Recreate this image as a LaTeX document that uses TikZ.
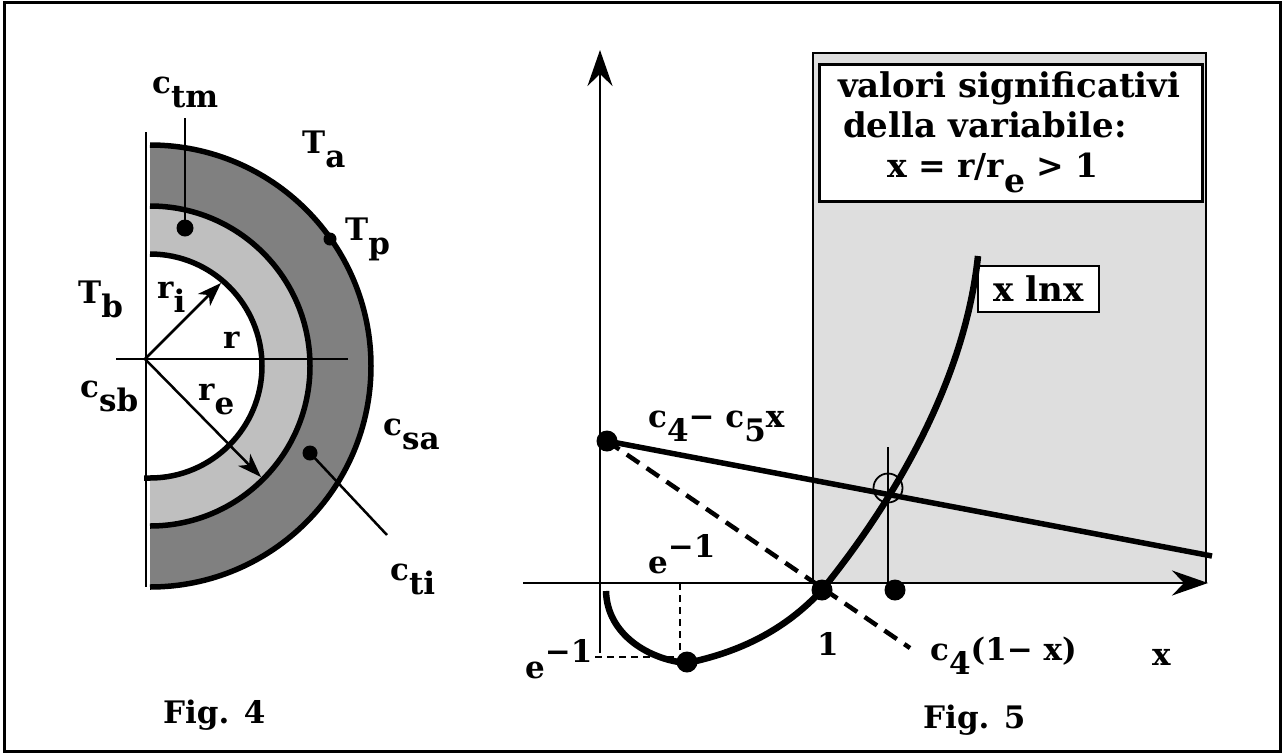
\documentclass[tikz,border=0pt]{standalone}
\usepackage{fontspec}
\setmainfont{DejaVu Serif}
\usetikzlibrary{arrows.meta}
\newcommand{\dn}[1]{\raisebox{-0.48em}{#1}}
\newcommand{\upr}[1]{\raisebox{0.5em}{#1}}
\begin{document}
\begin{tikzpicture}[x=1pt,y=-1pt,
  font=\fontsize{31}{33}\selectfont\bfseries,
  lbl/.style={anchor=base west,inner sep=0pt},
  boxtxt/.style={anchor=base west,inner sep=0pt,font=\fontsize{34}{36}\selectfont\bfseries},
  dotm/.style={circle,fill=black,inner sep=0pt,minimum size=#1},
  thin2/.style={line width=2.5pt},
  arcline/.style={line width=5.5pt},
  thickc/.style={line width=6.5pt},
  smallarrow/.style={-{Stealth[length=24pt,width=17pt,inset=7pt]}},
  axisarrow/.style={-{Stealth[length=36pt,width=25pt,inset=12pt]}},
  fine/.style={line width=1.8pt,dash pattern=on 7pt off 5pt}]
\useasboundingbox (0,0) rectangle (1282,753);
\fill[white] (0,0) rectangle (1282,753);
\draw[line width=3pt] (4,2) rectangle (1280,751);

% ---------- Fig. 4 ----------
\fill[black!50] (150,145) arc[start angle=90,end angle=-90,radius=221pt] -- cycle;
\fill[black!25] (150,206) arc[start angle=90,end angle=-90,radius=160pt] -- cycle;
\fill[white] (150,254) arc[start angle=90,end angle=-90,radius=112pt] -- cycle;
\draw[thin2] (146,132) -- (146,587);
\draw[thin2] (116,359) -- (348,359);
\draw[arcline] (150,254) arc[start angle=90,end angle=-90,radius=112pt] -- (144,478);
\draw[arcline] (150,206) arc[start angle=90,end angle=-90,radius=160pt];
\draw[arcline] (150,145) arc[start angle=90,end angle=-90,radius=221pt];
\coordinate (O) at (145,359);
\coordinate (Ri) at (221,283);
\coordinate (Re) at (261,477);
\draw[thin2,smallarrow] (O) -- (Ri);
\draw[thin2,smallarrow] (O) -- (Re);
\node[dotm=17pt] (dtm) at (185,228) {};
\coordinate (tmtop) at (185,118);
\draw[thin2] (tmtop) -- (dtm.center);
\node[dotm=13pt] (dtp) at (330,239) {};
\node[dotm=15pt] (dti) at (310,453) {};
\coordinate (tiend) at (387,535);
\draw[thin2] (dti.center) -- (tiend);

\node[lbl] (ctm) at (152,93) {c\dn{tm}};
\node[lbl] (Ta) at (302,153) {T\dn{a}};
\node[lbl] (Tp) at (345,240) {T\dn{p}};
\node[lbl] (Tb) at (78,303) {T\dn{b}};
\node[lbl] (ri) at (157,298) {r\dn{i}};
\node[lbl] (r) at (223,348) {r};
\node[lbl] (csb) at (80,397) {c\dn{sb}};
\node[lbl] (re) at (198,400) {r\dn{e}};
\node[lbl] (csa) at (383,435) {c\dn{sa}};
\node[lbl] (cti) at (390,580) {c\dn{ti}};
\node[lbl] (fig4) at (163,723) {Fig. 4};

% ---------- Fig. 5 ----------
\fill[black!13] (813,53) rectangle (1206,583);
\draw[thin2] (813,583) -- (813,53) -- (1206,53) -- (1206,583);
\node[draw,line width=2.5pt,fill=white,minimum width=383pt,minimum height=137pt,inner sep=0pt,anchor=north west] (box) at (818,63) {};
\node[boxtxt] (t1) at (838,97) {valori significativi};
\node[boxtxt] (t2) at (843,137) {della variabile:};
\node[boxtxt,font=\fontsize{33}{35}\selectfont\bfseries] (t3) at (887,177) {x = r/r\dn{e} > 1};

\coordinate (yb) at (600,653);
\coordinate (yt) at (600,50);
\draw[thin2,axisarrow] (yb) -- (yt);
\coordinate (xl) at (523,583);
\coordinate (xr) at (1208,583);
\draw[thin2,axisarrow] (xl) -- (xr);

\node[draw,line width=2.5pt,fill=white,minimum width=121pt,minimum height=46pt,inner sep=0pt,font=\fontsize{34}{36}\selectfont\bfseries] (xlnx) at (1038.5,289) {x lnx};

\draw[thickc] (606,591) .. controls (607,635) and (650,660) .. (687,663)
  .. controls (740,652) and (785,630) .. (822,590)
  .. controls (895,500) and (965,380) .. (978,256);

\node[dotm=21pt] (d0) at (607,441) {};
\coordinate (lend) at (1212,556);
\draw[line width=5.5pt] (d0.center) -- (lend);
\coordinate (dend) at (910,648);
\draw[line width=4.5pt,dash pattern=on 15pt off 9pt] (d0.center) -- (dend);

\node[draw,circle,line width=1.8pt,minimum size=29pt,inner sep=0pt] (ring) at (888,488) {};
\coordinate (vtop) at (888,447);
\coordinate (vbot) at (888,583);
\draw[thin2] (vtop) -- (vbot);
\node[dotm=21pt] (d1) at (822,590) {};
\node[dotm=21pt] (d2) at (895,590) {};
\node[dotm=21pt] (dmin) at (687,662) {};
\coordinate (ea) at (680,583);
\coordinate (eb) at (680,657);
\coordinate (ec) at (595,657);
\draw[fine] (ea) -- (eb);
\draw[fine] (ec) -- (eb);

\node[lbl] (em1) at (648,573) {e\upr{−1}};
\node[lbl] (em2) at (525,678) {e\upr{−1}};
\node[lbl] (one) at (817,655) {1};
\node[lbl] (lin) at (648,427) {c\dn{4}− c\dn{5}x};
\node[lbl] (dsh) at (930,660) {c\dn{4}(1− x)};
\node[lbl] (xl2) at (1152,665) {x};
\node[lbl] (fig5) at (923,728) {Fig. 5};
\end{tikzpicture}
\end{document}
